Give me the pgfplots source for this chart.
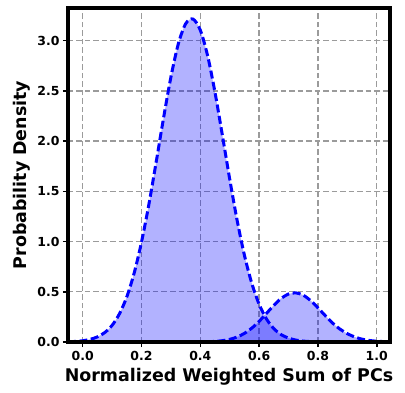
\documentclass[border=0pt]{standalone}
\usepackage{fontspec}
\setmainfont{DejaVu Sans}
\usepackage{pgfplots}
\usepackage{pgfplotstable}
\pgfplotsset{compat=1.18}

% density estimate of the lower group
\pgfplotstableread{
x y
-0.05 0.0025
-0.025 0.0057
0.0 0.0125
0.025 0.026
0.05 0.051
0.075 0.094
0.1 0.166
0.125 0.281
0.15 0.450
0.175 0.686
0.2 0.995
0.225 1.369
0.25 1.794
0.275 2.231
0.3 2.638
0.325 2.966
0.35 3.168
0.375 3.215
0.4 3.104
0.425 2.847
0.45 2.483
0.475 2.057
0.5 1.620
0.525 1.213
0.55 0.863
0.575 0.584
0.6 0.375
0.625 0.229
0.65 0.133
0.675 0.073
0.7 0.039
0.725 0.019
0.75 0.009
0.775 0.004
0.8 0.002
0.825 0.001
0.85 0.0
1.05 0.0
}\lowgroup

% density estimate of the upper group
\pgfplotstableread{
x y
-0.05 0.0
0.3 0.0
0.35 0.0002
0.4 0.0010
0.425 0.0026
0.45 0.0061
0.475 0.0132
0.5 0.0266
0.525 0.0496
0.55 0.0859
0.575 0.138
0.6 0.206
0.625 0.285
0.65 0.365
0.675 0.434
0.7 0.478
0.725 0.489
0.75 0.466
0.775 0.412
0.8 0.340
0.825 0.262
0.85 0.188
0.875 0.128
0.9 0.083
0.925 0.050
0.95 0.028
0.975 0.015
1.0 0.008
1.025 0.004
1.05 0.002
}\highgroup

\definecolor{gridgray}{RGB}{155,155,155}

\begin{document}
\begin{tikzpicture}[x=1bp,y=1bp]
\begin{axis}[
  scale only axis, width=322bp, height=334bp,
  xmin=-0.05, xmax=1.045, ymin=0, ymax=3.325,
  xtick={0,0.2,0.4,0.6,0.8,1.0},
  ytick={0,0.5,1.0,1.5,2.0,2.5,3.0},
  /pgf/number format/.cd, fixed, fixed zerofill, precision=1, assume math mode=true,
  /pgfplots/.cd,
  tick label style={font=\bfseries\fontsize{12.5}{13}\selectfont},
  xlabel={Normalized Weighted Sum of PCs},
  ylabel={Probability Density},
  label style={font=\bfseries\fontsize{17.5}{18}\selectfont},
  axis line style={line width=3.8bp},
  tick align=outside, major tick length=5bp,
  every tick/.style={black, line width=1.5bp},
  xtick pos=bottom, ytick pos=left,
  grid=major,
  major grid style={gridgray, line width=1.3bp, dash pattern=on 5.5bp off 3bp},
  xticklabel style={yshift=-1bp},
]
\addplot[draw=none, fill=blue, fill opacity=0.3, smooth] table[x=x,y=y] {\lowgroup} \closedcycle;
\addplot[draw=none, fill=blue, fill opacity=0.3, smooth] table[x=x,y=y] {\highgroup} \closedcycle;
\addplot[blue, line width=3bp, dash pattern=on 8bp off 3.5bp, smooth] table[x=x,y=y] {\lowgroup};
\addplot[blue, line width=3bp, dash pattern=on 8bp off 3.5bp, smooth] table[x=x,y=y] {\highgroup};
\end{axis}
% frame on top of the curves, as the spines are in the original
\draw[line width=3.8bp] (current axis.south west) rectangle (current axis.north east);
\path ([shift={(-68bp,-51bp)}]current axis.south west) rectangle ([shift={(15bp,8bp)}]current axis.north east);
\end{tikzpicture}
\end{document}
